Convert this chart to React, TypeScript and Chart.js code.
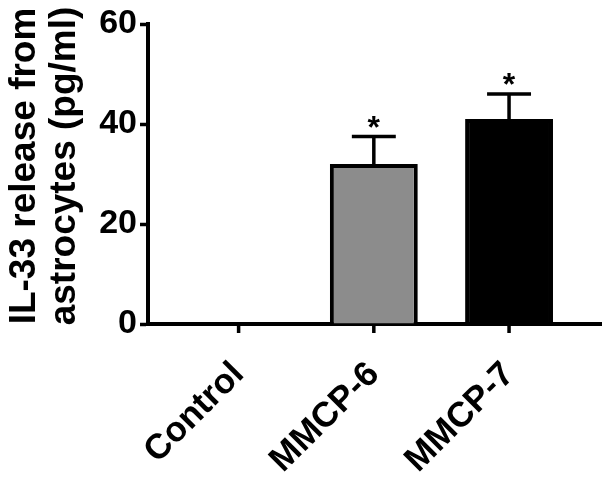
import React, { useEffect, useRef } from "react";
import { Chart, registerables } from "chart.js";

Chart.register(...registerables);

const categories = ["Control", "MMCP-6", "MMCP-7"];
const means = [0, 32, 41];
const errors = [0, 5.5, 5];
const significance = ["", "*", "*"];
const barColors = ["#ffffff", "#8c8c8c", "#000000"];
const yTicks = [0, 20, 40, 60];
const yTitle = ["IL-33 release from", "astrocytes (pg/ml)"];

const FONT = "'Liberation Sans', Arial, Helvetica, sans-serif";
const X_TICK_LEN = 9;

const errorBarPlugin = {
  id: "errorBars",
  afterDatasetsDraw(chart: any) {
    const ctx = chart.ctx;
    const meta = chart.getDatasetMeta(0);
    const yScale = chart.scales.y;
    ctx.save();
    meta.data.forEach((bar: any, i: number) => {
      const err = errors[i];
      const x = bar.x;
      const props = bar.getProps(["width", "y"], true);
      const topY = props.y;
      if (err > 0) {
        const capY = yScale.getPixelForValue(means[i] + err);
        const half = props.width * 0.25;
        ctx.strokeStyle = "#000";
        ctx.lineWidth = 3.5;
        ctx.beginPath();
        ctx.moveTo(x, topY);
        ctx.lineTo(x, capY);
        ctx.moveTo(x - half, capY);
        ctx.lineTo(x + half, capY);
        ctx.stroke();
        if (significance[i]) {
          ctx.fillStyle = "#000";
          ctx.font = `bold 32px ${FONT}`;
          ctx.textAlign = "center";
          ctx.textBaseline = "alphabetic";
          ctx.fillText(significance[i], x, capY + 1);
        }
      }
    });
    ctx.restore();
  },
};

const xTickPlugin = {
  id: "xTicks",
  afterDraw(chart: any) {
    const ctx = chart.ctx;
    const xs = chart.scales.x;
    const y0 = chart.chartArea.bottom;
    ctx.save();
    ctx.strokeStyle = "#000";
    ctx.lineWidth = 3.5;
    ctx.beginPath();
    xs.ticks.forEach((_: any, i: number) => {
      const px = xs.getPixelForTick(i);
      ctx.moveTo(px, y0);
      ctx.lineTo(px, y0 + X_TICK_LEN);
    });
    ctx.stroke();
    ctx.restore();
  },
};

const yTitlePlugin = {
  id: "yTitle",
  afterDraw(chart: any) {
    const ctx = chart.ctx;
    const area = chart.chartArea;
    const cy = (area.top + area.bottom) / 2 - 8;
    ctx.save();
    ctx.fillStyle = "#000";
    ctx.font = `bold 37px ${FONT}`;
    ctx.textAlign = "center";
    ctx.textBaseline = "alphabetic";
    const baselines = [35, 75];
    yTitle.forEach((line, i) => {
      ctx.save();
      ctx.translate(baselines[i], cy);
      ctx.rotate(-Math.PI / 2);
      ctx.fillText(line, 0, 0);
      ctx.restore();
    });
    ctx.restore();
  },
};

export default function App() {
  const ref = useRef<HTMLCanvasElement | null>(null);
  useEffect(() => {
    if (!ref.current) return;
    const chart = new Chart(ref.current, {
      type: "bar",
      data: {
        datasets: [
          {
            data: means.map((v, i) => ({ x: i, y: v })),
            backgroundColor: barColors,
            borderColor: "#000",
            borderWidth: 4,
            borderSkipped: "start",
            barPercentage: 0.65,
            categoryPercentage: 1,
          },
        ],
      },
      options: {
        animation: false,
        responsive: false,
        maintainAspectRatio: false,
        layout: { padding: { top: 24, right: 8, left: 0, bottom: 0 } },
        plugins: { legend: { display: false }, tooltip: { enabled: false } },
        scales: {
          x: {
            type: "linear",
            min: -0.67,
            max: 2.68,
            offset: false,
            z: 1,
            afterBuildTicks: (scale: any) => {
              scale.ticks = categories.map((_, i) => ({ value: i }));
            },
            afterFit: (scale: any) => {
              scale.height = 155;
            },
            grid: {
              offset: false,
              display: false,
              drawOnChartArea: false,
              drawTicks: false,
            },
            border: { display: true, color: "#000", width: 4 },
            ticks: {
              autoSkip: false,
              minRotation: 45,
              maxRotation: 45,
              padding: 21 + X_TICK_LEN,
              color: "#000",
              font: { family: FONT, size: 35, weight: "bold" },
              callback: (v: any) => categories[v] ?? "",
            },
          },
          y: {
            min: 0,
            max: 60,
            afterBuildTicks: (scale: any) => {
              scale.ticks = yTicks.map((v) => ({ value: v }));
            },
            afterFit: (scale: any) => {
              scale.width = 148;
            },
            grid: {
              drawOnChartArea: false,
              drawTicks: true,
              tickLength: 8,
              tickWidth: 3.5,
              tickColor: "#000",
            },
            border: { display: true, color: "#000", width: 4 },
            ticks: {
              padding: 3,
              color: "#000",
              font: { family: FONT, size: 34, weight: "bold" },
            },
          },
        },
      },
      plugins: [errorBarPlugin, xTickPlugin, yTitlePlugin],
    } as any);
    return () => chart.destroy();
  }, []);
  return (
    <div style={{ position: "fixed", left: 0, top: 0, width: 609, height: 479, background: "#fff" }}>
      <canvas ref={ref} width={609} height={479} style={{ width: 609, height: 479 }} />
    </div>
  );
}
